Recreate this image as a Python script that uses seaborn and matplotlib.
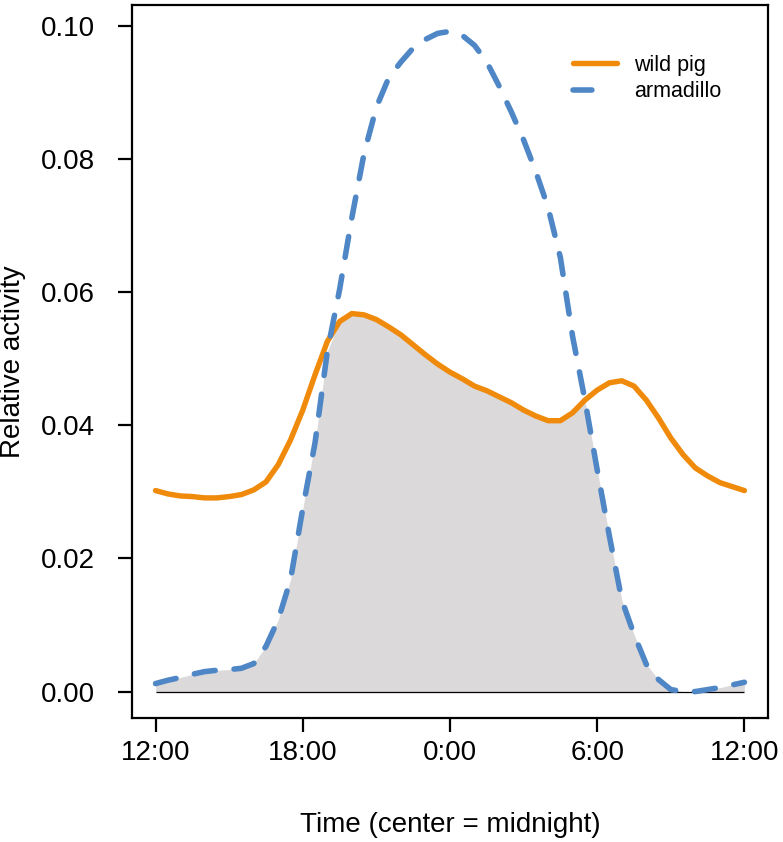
import numpy as np
import pandas as pd
import matplotlib
matplotlib.use("Agg")
import matplotlib.pyplot as plt
import seaborn as sns

# hours after 12:00 (noon), half-hour steps
hours = [0, 0.5, 1, 1.5, 2, 2.5, 3, 3.5, 4, 4.5, 5, 5.5, 6, 6.5, 7, 7.5, 8, 8.5,
         9, 9.5, 10, 10.5, 11, 11.5, 12, 12.5, 13, 13.5, 14, 14.5, 15, 15.5, 16,
         16.5, 17, 17.5, 18, 18.5, 19, 19.5, 20, 20.5, 21, 21.5, 22, 22.5, 23,
         23.5, 24]

wild_pig = [0.0302, 0.0297, 0.0294, 0.0293, 0.0291, 0.0291, 0.0293, 0.0296,
            0.0303, 0.0315, 0.0341, 0.0378, 0.0423, 0.0476, 0.0526, 0.0556,
            0.0568, 0.0566, 0.0559, 0.0548, 0.0536, 0.0521, 0.0506, 0.0492,
            0.0480, 0.0470, 0.0459, 0.0452, 0.0443, 0.0434, 0.0423, 0.0414,
            0.0407, 0.0407, 0.0419, 0.0438, 0.0453, 0.0464, 0.0467, 0.0459,
            0.0438, 0.0411, 0.0381, 0.0356, 0.0336, 0.0324, 0.0314, 0.0308,
            0.0302]

armadillo = [0.0012, 0.0017, 0.0021, 0.0026, 0.0030, 0.0032, 0.0033, 0.0035,
             0.0042, 0.0068, 0.0108, 0.0168, 0.0275, 0.0374, 0.0511, 0.0604,
             0.0712, 0.0809, 0.0878, 0.0922, 0.0946, 0.0967, 0.0980, 0.0989,
             0.0992, 0.0986, 0.0971, 0.0946, 0.0910, 0.0871, 0.0829, 0.0781,
             0.0727, 0.0652, 0.0533, 0.0438, 0.0333, 0.0233, 0.0138, 0.0086,
             0.0041, 0.0018, 0.0003, 0.0000, 0.0000, 0.0003, 0.0006, 0.0010,
             0.0014]

tick_hours = [0, 6, 12, 18, 24]
tick_labels = ["12:00", "18:00", "0:00", "6:00", "12:00"]
y_ticks = [0.00, 0.02, 0.04, 0.06, 0.08, 0.10]

df = pd.DataFrame({"hour": hours, "wild pig": wild_pig, "armadillo": armadillo})
overlap = np.minimum(df["wild pig"], df["armadillo"])

sns.set_theme(style="ticks")
plt.rcParams["font.family"] = ["Liberation Sans", "DejaVu Sans"]
for key in ["text.color", "axes.labelcolor", "xtick.color", "ytick.color",
            "axes.edgecolor"]:
    plt.rcParams[key] = "black"

fig = plt.figure(figsize=(7.83, 8.42), dpi=100)
ax = fig.add_axes([0.1686, 0.1473, 0.8122, 0.8468])

ax.fill_between(df["hour"], 0, overlap, color="#dbd9da", lw=0, zorder=1)
ax.hlines(0, hours[0], hours[-1], color="black", lw=0.9, zorder=2)

sns.lineplot(data=df, x="hour", y="wild pig", color="#f08a0b", lw=3.9,
             label="wild pig", ax=ax, zorder=3)
sns.lineplot(data=df, x="hour", y="armadillo", color="#4e86c6", lw=4.0,
             label="armadillo", ax=ax, zorder=4)
blue = ax.lines[-1]
blue.set_dashes((3.8, 3.4))
blue.set_dash_capstyle("round")
ax.lines[-2].set_solid_capstyle("round")
ax.lines[-2].set_solid_joinstyle("round")

ymax = max(armadillo)
ax.set_xlim(-0.04 * 24, 24 * 1.04)
ax.set_ylim(-0.04 * ymax, 1.04 * ymax)
ax.set_xticks(tick_hours)
ax.set_xticklabels(tick_labels)
ax.set_yticks(y_ticks)
ax.set_yticklabels([f"{v:.2f}" for v in y_ticks])

ax.set_xlabel("Time (center = midnight)", fontsize=20, labelpad=33)
ax.set_ylabel("Relative activity", fontsize=20, labelpad=10)
ax.tick_params(axis="both", labelsize=20, length=10, width=1.6,
               color="black", labelcolor="black")
ax.tick_params(axis="y", pad=17)
ax.tick_params(axis="x", pad=6)
for s in ax.spines.values():
    s.set_linewidth(1.6)
    s.set_color("black")

leg = ax.legend(loc="upper left", bbox_to_anchor=(0.693, 0.93), frameon=False,
                fontsize=15.5, handlelength=2.05, handletextpad=0.8,
                labelspacing=0.25, borderpad=0, borderaxespad=0)
for t in leg.get_texts():
    t.set_color("black")
leg.get_lines()[1].set_dashes((3.4, 6.0))
leg.get_lines()[1].set_dash_capstyle("round")

fig.savefig("out.png", dpi=100)
